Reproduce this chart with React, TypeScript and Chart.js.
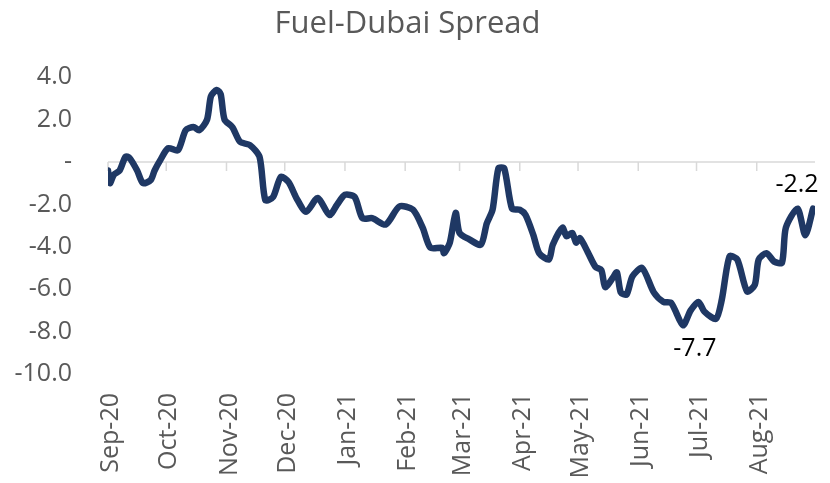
import React, { useEffect, useRef } from "react";
import { Chart, registerables } from "chart.js";

Chart.register(...registerables);

const chartTitle = "Fuel-Dubai Spread";

// x axis: days since 1 Sep 2020
const monthLabels = ["Sep-20", "Oct-20", "Nov-20", "Dec-20", "Jan-21", "Feb-21", "Mar-21", "Apr-21", "May-21", "Jun-21", "Jul-21", "Aug-21"];
const monthStarts = [0, 30, 61, 91, 122, 153, 181, 212, 242, 273, 303, 334];

const days = [
  0, 1, 3, 6, 9, 11, 15, 18, 22, 24, 27, 31, 36, 40, 44, 47, 51, 53, 56, 58,
  60, 64, 68, 73, 78, 81, 85, 89, 93, 97, 102, 108, 114, 118, 122, 127, 131, 136, 143, 150,
  157, 162, 166, 172, 173, 176, 179, 181, 186, 192, 195, 198, 201, 204, 208, 212, 215, 219, 222, 227,
  229, 234, 236, 239, 241, 243, 247, 251, 254, 256, 260, 262, 264, 267, 270, 275, 281, 286, 290, 296,
  300, 304, 307, 313, 316, 320, 324, 329, 333, 335, 339, 343, 347, 349, 355, 359, 363,
];
const spread = [
  -0.4, -1.0, -0.6, -0.4, 0.25, 0.2, -0.4, -1.0, -0.85, -0.4, 0.1, 0.65, 0.55, 1.5, 1.65, 1.5, 2.0, 3.1, 3.4, 3.2,
  2.0, 1.65, 0.95, 0.8, 0.25, -1.8, -1.65, -0.7, -0.95, -1.7, -2.35, -1.7, -2.5, -2.0, -1.55, -1.65, -2.65, -2.65, -2.95, -2.1,
  -2.25, -3.1, -4.05, -4.05, -4.3, -3.8, -2.4, -3.35, -3.65, -3.9, -2.9, -2.25, -0.3, -0.3, -2.2, -2.25, -2.5, -3.45, -4.3, -4.6,
  -3.9, -3.1, -3.5, -3.35, -3.8, -3.6, -4.25, -4.95, -5.1, -5.9, -5.45, -5.2, -6.15, -6.25, -5.4, -5.0, -6.15, -6.6, -6.65, -7.7,
  -7.0, -6.6, -7.05, -7.4, -6.5, -4.45, -4.6, -6.1, -5.8, -4.6, -4.3, -4.7, -4.75, -3.1, -2.2, -3.45, -2.2,
];

// annotated points (day) and their labels
const annotationDays = [296, 363];
const annotationTexts = ["-7.7", "-2.2"];

const yMin = -10;
const yMax = 4;
const yStep = 2;

const FONT = "'Open Sans', 'Noto Sans', sans-serif";
const GREY = "#595959";
const LINE = "#1f3864";

export default function App() {
  const ref = useRef<HTMLCanvasElement | null>(null);

  useEffect(() => {
    document.body.style.margin = "0";
    const canvas = ref.current;
    if (!canvas) return;

    const zeroAxisPlugin = {
      id: "zeroAxis",
      beforeDatasetsDraw(chart: any) {
        const { ctx, chartArea, scales } = chart;
        const y0 = scales.y.getPixelForValue(0);
        ctx.save();
        ctx.strokeStyle = "#d9d9d9";
        ctx.lineWidth = 1.5;
        ctx.beginPath();
        ctx.moveTo(chartArea.left, y0);
        ctx.lineTo(chartArea.right, y0);
        monthStarts.forEach((d) => {
          const x = scales.x.getPixelForValue(d);
          ctx.moveTo(x, y0);
          ctx.lineTo(x, y0 + 9);
        });
        ctx.stroke();
        ctx.restore();
      },
    };

    const annotationPlugin = {
      id: "annot",
      afterDatasetsDraw(chart: any) {
        const { ctx, scales } = chart;
        ctx.save();
        ctx.fillStyle = "#000000";
        ctx.font = `25px ${FONT}`;
        ctx.textAlign = "center";
        ctx.textBaseline = "middle";
        annotationDays.forEach((d, i) => {
          const idx = days.indexOf(d);
          const x = scales.x.getPixelForValue(d);
          const y = scales.y.getPixelForValue(spread[idx]);
          if (i === 0) ctx.fillText(annotationTexts[i], x + 12, y + 24);
          else ctx.fillText(annotationTexts[i], x - 16, y - 24);
        });
        ctx.restore();
      },
    };

    const chart = new Chart(canvas, {
      type: "line",
      data: {
        datasets: [
          {
            data: days.map((d, i) => ({ x: d, y: spread[i] })),
            borderColor: LINE,
            borderWidth: 6.5,
            pointRadius: 0,
            tension: 0.25,
            borderCapStyle: "round",
            borderJoinStyle: "round",
            fill: false,
          },
        ],
      },
      options: {
        animation: false,
        responsive: false,
        maintainAspectRatio: false,
        layout: { padding: { left: 0, right: 15, top: 0, bottom: 0 } },
        plugins: {
          legend: { display: false },
          tooltip: { enabled: false },
          title: {
            display: true,
            text: chartTitle,
            color: GREY,
            font: { family: FONT, size: 31, weight: "normal" },
            padding: { top: 6, bottom: 34 },
          },
        },
        scales: {
          x: {
            type: "linear",
            min: 0,
            max: 364,
            grid: { display: false, drawTicks: false },
            border: { display: false },
            afterBuildTicks: (scale: any) => {
              scale.ticks = monthStarts.map((v) => ({ value: v }));
            },
            afterFit: (scale: any) => {
              scale.height = 109;
            },
            ticks: {
              autoSkip: false,
              minRotation: 90,
              maxRotation: 90,
              padding: 19,
              labelOffset: 3,
              color: GREY,
              font: { family: FONT, size: 25 },
              callback: (v: any) => {
                const i = monthStarts.indexOf(Number(v));
                return i >= 0 ? monthLabels[i] : "";
              },
            },
          },
          y: {
            min: yMin,
            max: yMax,
            grid: { display: false, drawTicks: false },
            border: { display: false },
            afterFit: (scale: any) => {
              scale.width = 108;
            },
            ticks: {
              stepSize: yStep,
              padding: 36,
              color: GREY,
              font: { family: FONT, size: 25 },
              callback: (v: any) => (Number(v) === 0 ? "-" : Number(v).toFixed(1)),
            },
          },
        },
      },
      plugins: [zeroAxisPlugin, annotationPlugin],
    } as any);

    return () => chart.destroy();
  }, []);

  return (
    <div style={{ position: "absolute", left: 0, top: 0, width: 830, height: 483, background: "#fff" }}>
      <canvas ref={ref} width={830} height={483} style={{ width: 830, height: 483 }} />
    </div>
  );
}
